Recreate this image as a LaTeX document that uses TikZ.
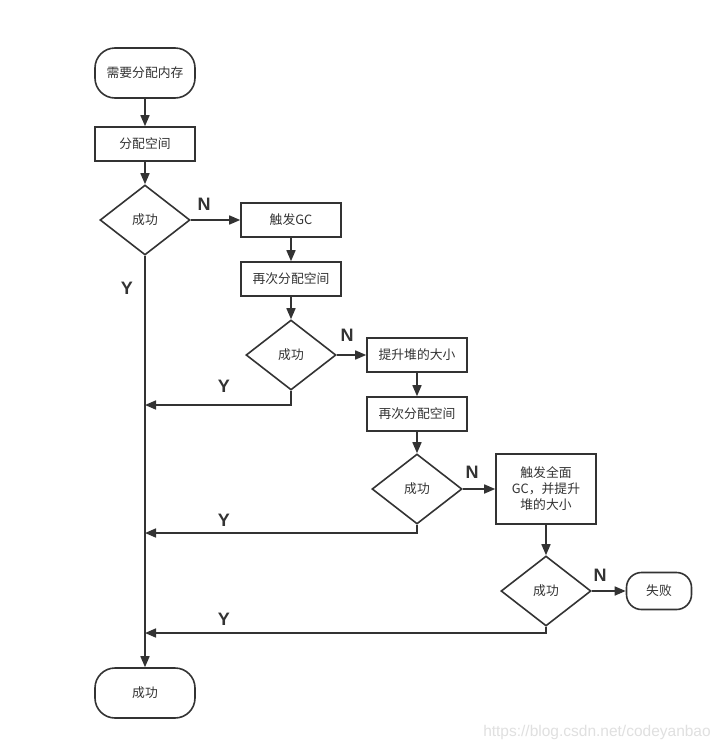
\documentclass[tikz,border=0pt]{standalone}
\usepackage{fontspec}
\setmainfont{Liberation Sans}
\newfontfamily\cjk{Noto Sans CJK SC}
\usetikzlibrary{shapes.geometric,arrows.meta}
\definecolor{ink}{HTML}{333333}
\tikzset{
  base/.style={draw=ink, line width=1.6pt, text=ink, font=\cjk\fontsize{12.8}{16}\selectfont, inner sep=0pt, align=center},
  procbox/.style={base, rectangle, minimum width=100pt, minimum height=34pt},
  termbox/.style={base, rectangle, rounded corners=20pt, minimum width=100pt, minimum height=50pt},
  smallterm/.style={base, rectangle, rounded corners=15pt, minimum width=65pt, minimum height=37pt},
  decbox/.style={base, diamond, minimum width=90pt, minimum height=70pt},
  flow/.style={draw=ink, line width=1.6pt, -{Triangle[length=11pt,width=9pt]}},
  lbl/.style={text=ink, font=\bfseries\fontsize{18}{18}\selectfont, inner sep=0pt}
}
\begin{document}
\begin{tikzpicture}[x=1pt,y=-1pt]
\useasboundingbox[fill=white] (0,0) rectangle (724,750);
\node[termbox] (start) at (145,73) {需要分配内存};
\node[procbox] (alloc) at (145,144) {分配空间};
\node[decbox] (d1) at (145,220) {成功};
\node[procbox] (gc) at (291,220) {触发GC};
\node[procbox] (alloc2) at (291,279) {再次分配空间};
\node[decbox] (d2) at (291,355) {成功};
\node[procbox] (grow) at (417,355) {提升堆的大小};
\node[procbox] (alloc3) at (417,414) {再次分配空间};
\node[decbox] (d3) at (417,489) {成功};
\node[procbox, minimum height=70pt, text width=70pt] (fullgc) at (546,489) {触发全面\\GC，并提升\\堆的大小};
\node[decbox] (d4) at (546,591) {成功};
\node[smallterm] (fail) at (659,591) {失败};
\node[termbox] (done) at (145,693) {成功};

\coordinate (j1) at (145,405);
\coordinate (j2) at (145,533);
\coordinate (j3) at (145,633);

\draw[flow] (start) -- (alloc);
\draw[flow] (alloc) -- (d1);
\draw[flow] (d1) -- (gc);
\draw[flow] (gc) -- (alloc2);
\draw[flow] (alloc2) -- (d2);
\draw[flow] (d2) -- (grow);
\draw[flow] (grow) -- (alloc3);
\draw[flow] (alloc3) -- (d3);
\draw[flow] (d3) -- (fullgc);
\draw[flow] (fullgc) -- (d4);
\draw[flow] (d4) -- (fail);
\draw[flow] (d1) -- (done);
\draw[flow] (d2.south) |- (j1);
\draw[flow] (d3.south) |- (j2);
\draw[flow] (d4.south) |- (j3);

\node[lbl] (n1) at (204,204) {N};
\node[lbl] (n2) at (347,335) {N};
\node[lbl] (n3) at (472,472) {N};
\node[lbl] (n4) at (600,575) {N};
\node[lbl] (y1) at (127,288) {Y};
\node[lbl] (y2) at (224,386) {Y};
\node[lbl] (y3) at (224,520) {Y};
\node[lbl] (y4) at (224,619) {Y};

\node[text=black!12, font=\fontsize{15.5}{15.5}\selectfont, inner sep=0pt] (wm) at (597,732) {https://blog.csdn.net/codeyanbao};
\end{tikzpicture}
\end{document}
